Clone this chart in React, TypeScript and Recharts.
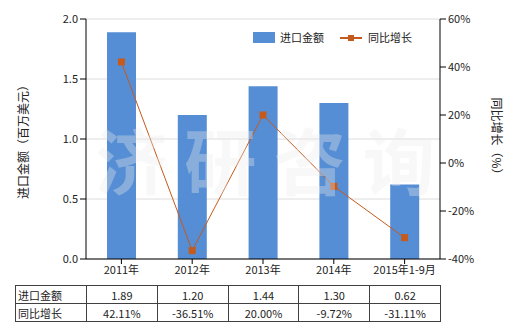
import { ComposedChart, Bar, Line, XAxis, YAxis, CartesianGrid } from 'recharts';

const categories = ['2011年', '2012年', '2013年', '2014年', '2015年1-9月'];
const importValues = [1.89, 1.2, 1.44, 1.3, 0.62];
const yoyGrowth = [42.11, -36.51, 20.0, -9.72, -31.11];
const leftTicks = [0, 0.5, 1.0, 1.5, 2.0];
const rightTicks = [-40, -20, 0, 20, 40, 60];

const BAR_COLOR = '#558ed5';
const LINE_COLOR = '#c55a1c';
const FONT = '"Noto Sans CJK SC", "DejaVu Sans", sans-serif';

const chartData = categories.map((c, i) => ({
  name: c,
  value: importValues[i],
  growth: yoyGrowth[i],
}));

const SquareDot = (props: any) => {
  const { cx, cy } = props;
  if (cx == null || cy == null) return null;
  return <rect x={cx - 3.5} y={cy - 3.5} width={7} height={7} fill={LINE_COLOR} />;
};

const cell: React.CSSProperties = {
  border: '1px solid #404040',
  padding: 0,
  height: 17,
  textAlign: 'center',
  fontSize: 11,
};

export default function App() {
  return (
    <div style={{ position: 'absolute', left: 0, top: 0, width: 520, height: 330, background: '#fff', fontFamily: FONT }}>
      <ComposedChart width={520} height={290} data={chartData} margin={{ top: 19, right: 0, bottom: 0, left: 0 }}>
        <CartesianGrid vertical={false} stroke="#dcdcdc" yAxisId="left" />
        <XAxis
          dataKey="name"
          height={31}
          tick={{ fontSize: 11, fill: '#222', fontFamily: FONT }}
          axisLine={{ stroke: '#000' }}
          tickLine={{ stroke: '#000' }}
          tickSize={5}
        />
        <YAxis
          yAxisId="left"
          width={86}
          domain={[0, 2]}
          ticks={leftTicks}
          tickFormatter={(v: number) => v.toFixed(1)}
          tick={{ fontSize: 11, fill: '#222', fontFamily: FONT }}
          axisLine={{ stroke: '#000' }}
          tickLine={{ stroke: '#000' }}
          label={{ value: '进口金额（百万美元）', angle: -90, position: 'insideLeft', offset: 24, style: { textAnchor: 'middle', fontSize: 12, fill: '#222', fontFamily: FONT } }}
        />
        <YAxis
          yAxisId="right"
          orientation="right"
          width={80}
          domain={[-40, 60]}
          ticks={rightTicks}
          tickFormatter={(v: number) => `${v}%`}
          tick={{ fontSize: 11, fill: '#222', fontFamily: FONT }}
          axisLine={{ stroke: '#000' }}
          tickLine={{ stroke: '#000' }}
          label={{ value: '同比增长（%）', angle: 90, position: 'insideRight', offset: 24, style: { textAnchor: 'middle', fontSize: 12, fill: '#222', fontFamily: FONT } }}
        />
        <Bar yAxisId="left" dataKey="value" fill={BAR_COLOR} barSize={29} isAnimationActive={false} />
        <Line
          yAxisId="right"
          dataKey="growth"
          type="linear"
          stroke={LINE_COLOR}
          strokeWidth={1}
          dot={<SquareDot />}
          isAnimationActive={false}
        />
      </ComposedChart>
      {/* legend */}
      <div style={{ position: 'absolute', left: 253, top: 31, display: 'flex', alignItems: 'center', fontSize: 11, color: '#222', lineHeight: '13px' }}>
        <span style={{ display: 'inline-block', width: 22, height: 11, background: BAR_COLOR, marginRight: 5 }} />
        <span style={{ marginRight: 16 }}>进口金额</span>
        <svg width={22} height={10} style={{ marginRight: 6 }}>
          <line x1={0} y1={5} x2={22} y2={5} stroke={LINE_COLOR} strokeWidth={2} />
          <rect x={8} y={2} width={6} height={6} fill={LINE_COLOR} />
        </svg>
        <span>同比增长</span>
      </div>
      {/* watermark */}
      <div
        style={{
          position: 'absolute',
          left: 95,
          top: 122,
          width: 340,
          display: 'flex',
          justifyContent: 'space-between',
          fontSize: 72,
          fontWeight: 'bold',
          color: 'rgba(235,235,235,0.35)',
          pointerEvents: 'none',
          lineHeight: 1,
        }}
      >
        <span>济</span>
        <span>研</span>
        <span>咨</span>
        <span>询</span>
      </div>
      <table
        style={{
          position: 'absolute',
          left: 15,
          top: 285,
          borderCollapse: 'collapse',
          tableLayout: 'fixed',
          width: 425,
          color: '#222',
        }}
      >
        <colgroup>
          <col style={{ width: 71 }} />
          {categories.map((c) => (
            <col key={c} style={{ width: 70.8 }} />
          ))}
        </colgroup>
        <tbody>
          <tr>
            <td style={{ ...cell, textAlign: 'left', paddingLeft: 2 }}>进口金额</td>
            {importValues.map((v, i) => (
              <td key={i} style={cell}>{v.toFixed(2)}</td>
            ))}
          </tr>
          <tr>
            <td style={{ ...cell, textAlign: 'left', paddingLeft: 2 }}>同比增长</td>
            {yoyGrowth.map((v, i) => (
              <td key={i} style={cell}>{v.toFixed(2)}%</td>
            ))}
          </tr>
        </tbody>
      </table>
    </div>
  );
}
